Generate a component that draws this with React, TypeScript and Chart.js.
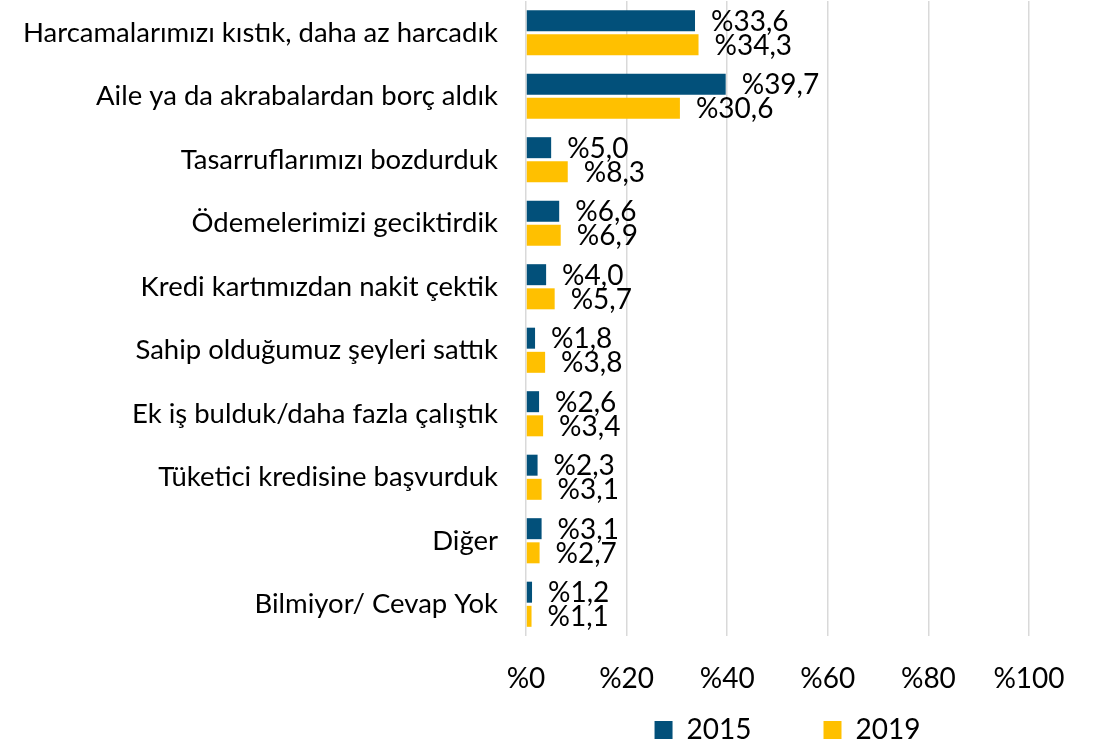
import React, { useEffect, useRef } from "react";
import { Chart, registerables } from "chart.js";

Chart.register(...registerables);

const categories = [
  "Harcamalarımızı kıstık, daha az harcadık",
  "Aile ya da akrabalardan borç aldık",
  "Tasarruflarımızı bozdurduk",
  "Ödemelerimizi geciktirdik",
  "Kredi kartımızdan nakit çektik",
  "Sahip olduğumuz şeyleri sattık",
  "Ek iş bulduk/daha fazla çalıştık",
  "Tüketici kredisine başvurduk",
  "Diğer",
  "Bilmiyor/ Cevap Yok",
];

const values2015 = [33.6, 39.7, 5.0, 6.6, 4.0, 1.8, 2.6, 2.3, 3.1, 1.2];
const values2019 = [34.3, 30.6, 8.3, 6.9, 5.7, 3.8, 3.4, 3.1, 2.7, 1.1];

const seriesNames = ["2015", "2019"];
const xTickValues = [0, 20, 40, 60, 80, 100];

const FONT = "Lato";
const FS = 28;
const CAT_FS = 27.5;

const fmt = (v: number) => "%" + v.toFixed(1).replace(".", ",");

const valueLabelPlugin = {
  id: "valueLabels",
  afterDatasetsDraw(chart: any) {
    const ctx = chart.ctx;
    ctx.save();
    ctx.font = `${FS}px ${FONT}`;
    ctx.fillStyle = "#000000";
    ctx.textAlign = "left";
    ctx.textBaseline = "middle";
    chart.data.datasets.forEach((ds: any, di: number) => {
      const meta = chart.getDatasetMeta(di);
      meta.data.forEach((el: any, i: number) => {
        ctx.fillText(fmt(ds.data[i]), el.x + 16, el.y + 1);
      });
    });
    ctx.restore();
  },
};

// centre the legend under the plot area rather than under the whole canvas
const legendUnderPlotPlugin = {
  id: "legendUnderPlot",
  afterLayout(chart: any) {
    const lg = chart.legend;
    if (lg) {
      lg.left = chart.chartArea.left + 10;
      lg.right = chart.chartArea.right + 10;
    }
  },
};

export default function App() {
  const ref = useRef<HTMLCanvasElement>(null);
  useEffect(() => {
    if (!ref.current) return;
    const chart = new Chart(ref.current, {
      type: "bar",
      data: {
        labels: categories,
        datasets: [
          {
            label: seriesNames[0],
            data: values2015,
            backgroundColor: "#02507A",
            categoryPercentage: 0.76,
            barPercentage: 0.87,
          },
          {
            label: seriesNames[1],
            data: values2019,
            backgroundColor: "#FFC000",
            categoryPercentage: 0.76,
            barPercentage: 0.87,
          },
        ],
      },
      options: {
        indexAxis: "y",
        animation: false,
        responsive: true,
        maintainAspectRatio: false,
        layout: { padding: { left: 0, right: 83, top: 1, bottom: -10 } },
        scales: {
          x: {
            min: 0,
            max: 100,
            afterBuildTicks: (scale: any) => {
              scale.ticks = xTickValues.map((v) => ({ value: v }));
            },
            afterFit: (scale: any) => {
              scale.height = 8;
            },
            grid: { color: "#D9D9D9", lineWidth: 1.5, drawTicks: false },
            border: { display: false },
            ticks: {
              mirror: true,
              padding: -60,
              color: "#000000",
              font: { family: FONT, size: FS },
              callback: (v: any) => "%" + v,
            },
          },
          y: {
            afterFit: (scale: any) => {
              scale.width = 526;
              scale.paddingTop = 0;
              scale.paddingBottom = 0;
            },
            grid: { display: false, drawTicks: false },
            border: { display: false },
            ticks: {
              padding: 28,
              color: "#000000",
              font: { family: FONT, size: CAT_FS },
            },
          },
        },
        plugins: {
          legend: {
            position: "bottom",
            labels: {
              boxWidth: 18,
              boxHeight: 18,
              padding: 72,
              color: "#000000",
              font: { family: FONT, size: FS },
            },
          },
          tooltip: { enabled: false },
        },
      },
      plugins: [valueLabelPlugin, legendUnderPlotPlugin],
    });
    return () => chart.destroy();
  }, []);
  return (
    <div style={{ position: "absolute", left: 0, top: 0, width: 1112, height: 744, background: "#ffffff" }}>
      <canvas ref={ref} />
    </div>
  );
}
